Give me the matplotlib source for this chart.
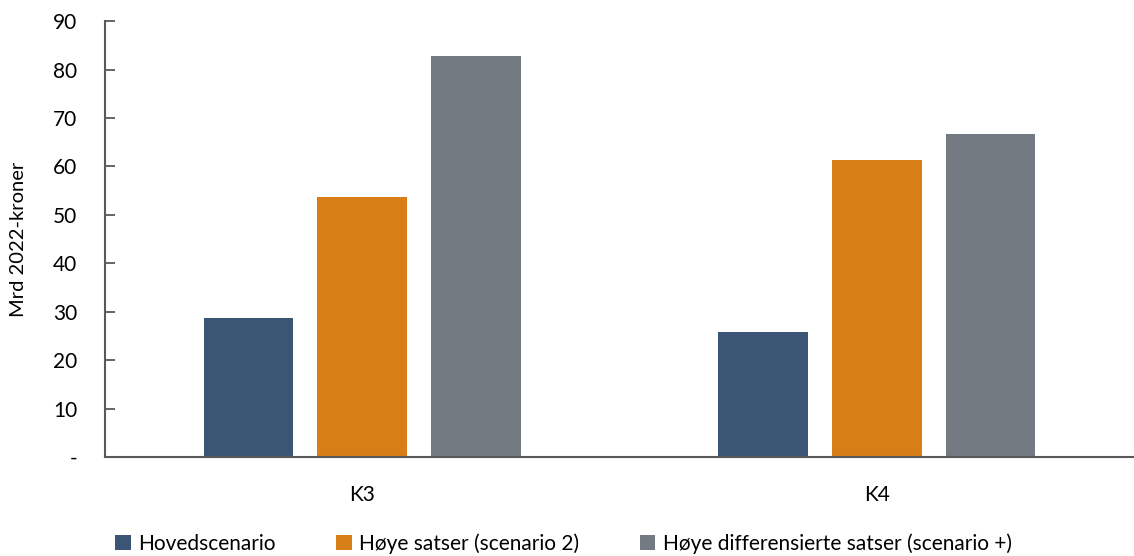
import numpy as np
import matplotlib
matplotlib.use("Agg")
import matplotlib.pyplot as plt

plt.rcParams['font.family'] = ['Lato', 'DejaVu Sans']

categories = ["K3", "K4"]
series = ["Hovedscenario", "Høye satser (scenario 2)",
          "Høye differensierte satser (scenario +)"]
hoved = [28.7, 25.8]
hoye = [53.7, 61.3]
hoye_diff = [82.8, 66.7]
colors = ["#3A5674", "#D77E16", "#737A82"]

yticks = [0, 10, 20, 30, 40, 50, 60, 70, 80, 90]
ytick_labels = ["-", "10", "20", "30", "40", "50", "60", "70", "80", "90"]

fig = plt.figure(figsize=(11.34, 5.56), dpi=100)
ax = fig.add_axes([0.0926, 0.178, 0.9074, 0.784])

x = np.arange(len(categories))
w = 0.174
offs = 0.2215
for i, (vals, name) in enumerate(zip([hoved, hoye, hoye_diff], series)):
    ax.bar(x + (i - 1) * offs, vals, width=w, color=colors[i], label=name)

ax.set_xlim(-0.5, 1.5)
ax.set_ylim(0, 90)
ax.set_xticks(x)
ax.set_xticklabels(categories, fontsize=15)
ax.set_yticks(yticks)
ax.set_yticklabels(ytick_labels, fontsize=15)
ax.tick_params(axis='x', length=0, pad=20)
# inward ticks, so the pad counts from the spine
ax.tick_params(axis='y', direction='in', length=7, width=1.3,
               color='#595959', pad=20)

for s in ['top', 'right']:
    ax.spines[s].set_visible(False)
for s in ['left', 'bottom']:
    ax.spines[s].set_color('#595959')
    ax.spines[s].set_linewidth(1.5)

ax.set_ylabel("Mrd 2022-kroner", fontsize=14.5)
ax.yaxis.set_label_coords(-0.076, 0.5)

fig.legend(loc='lower center', bbox_to_anchor=(0.497, -0.03), ncol=3,
           frameon=False, fontsize=15, handlelength=0.75, handleheight=0.75,
           handletextpad=0.35, columnspacing=2.9)

fig.savefig("out.png", dpi=100)
